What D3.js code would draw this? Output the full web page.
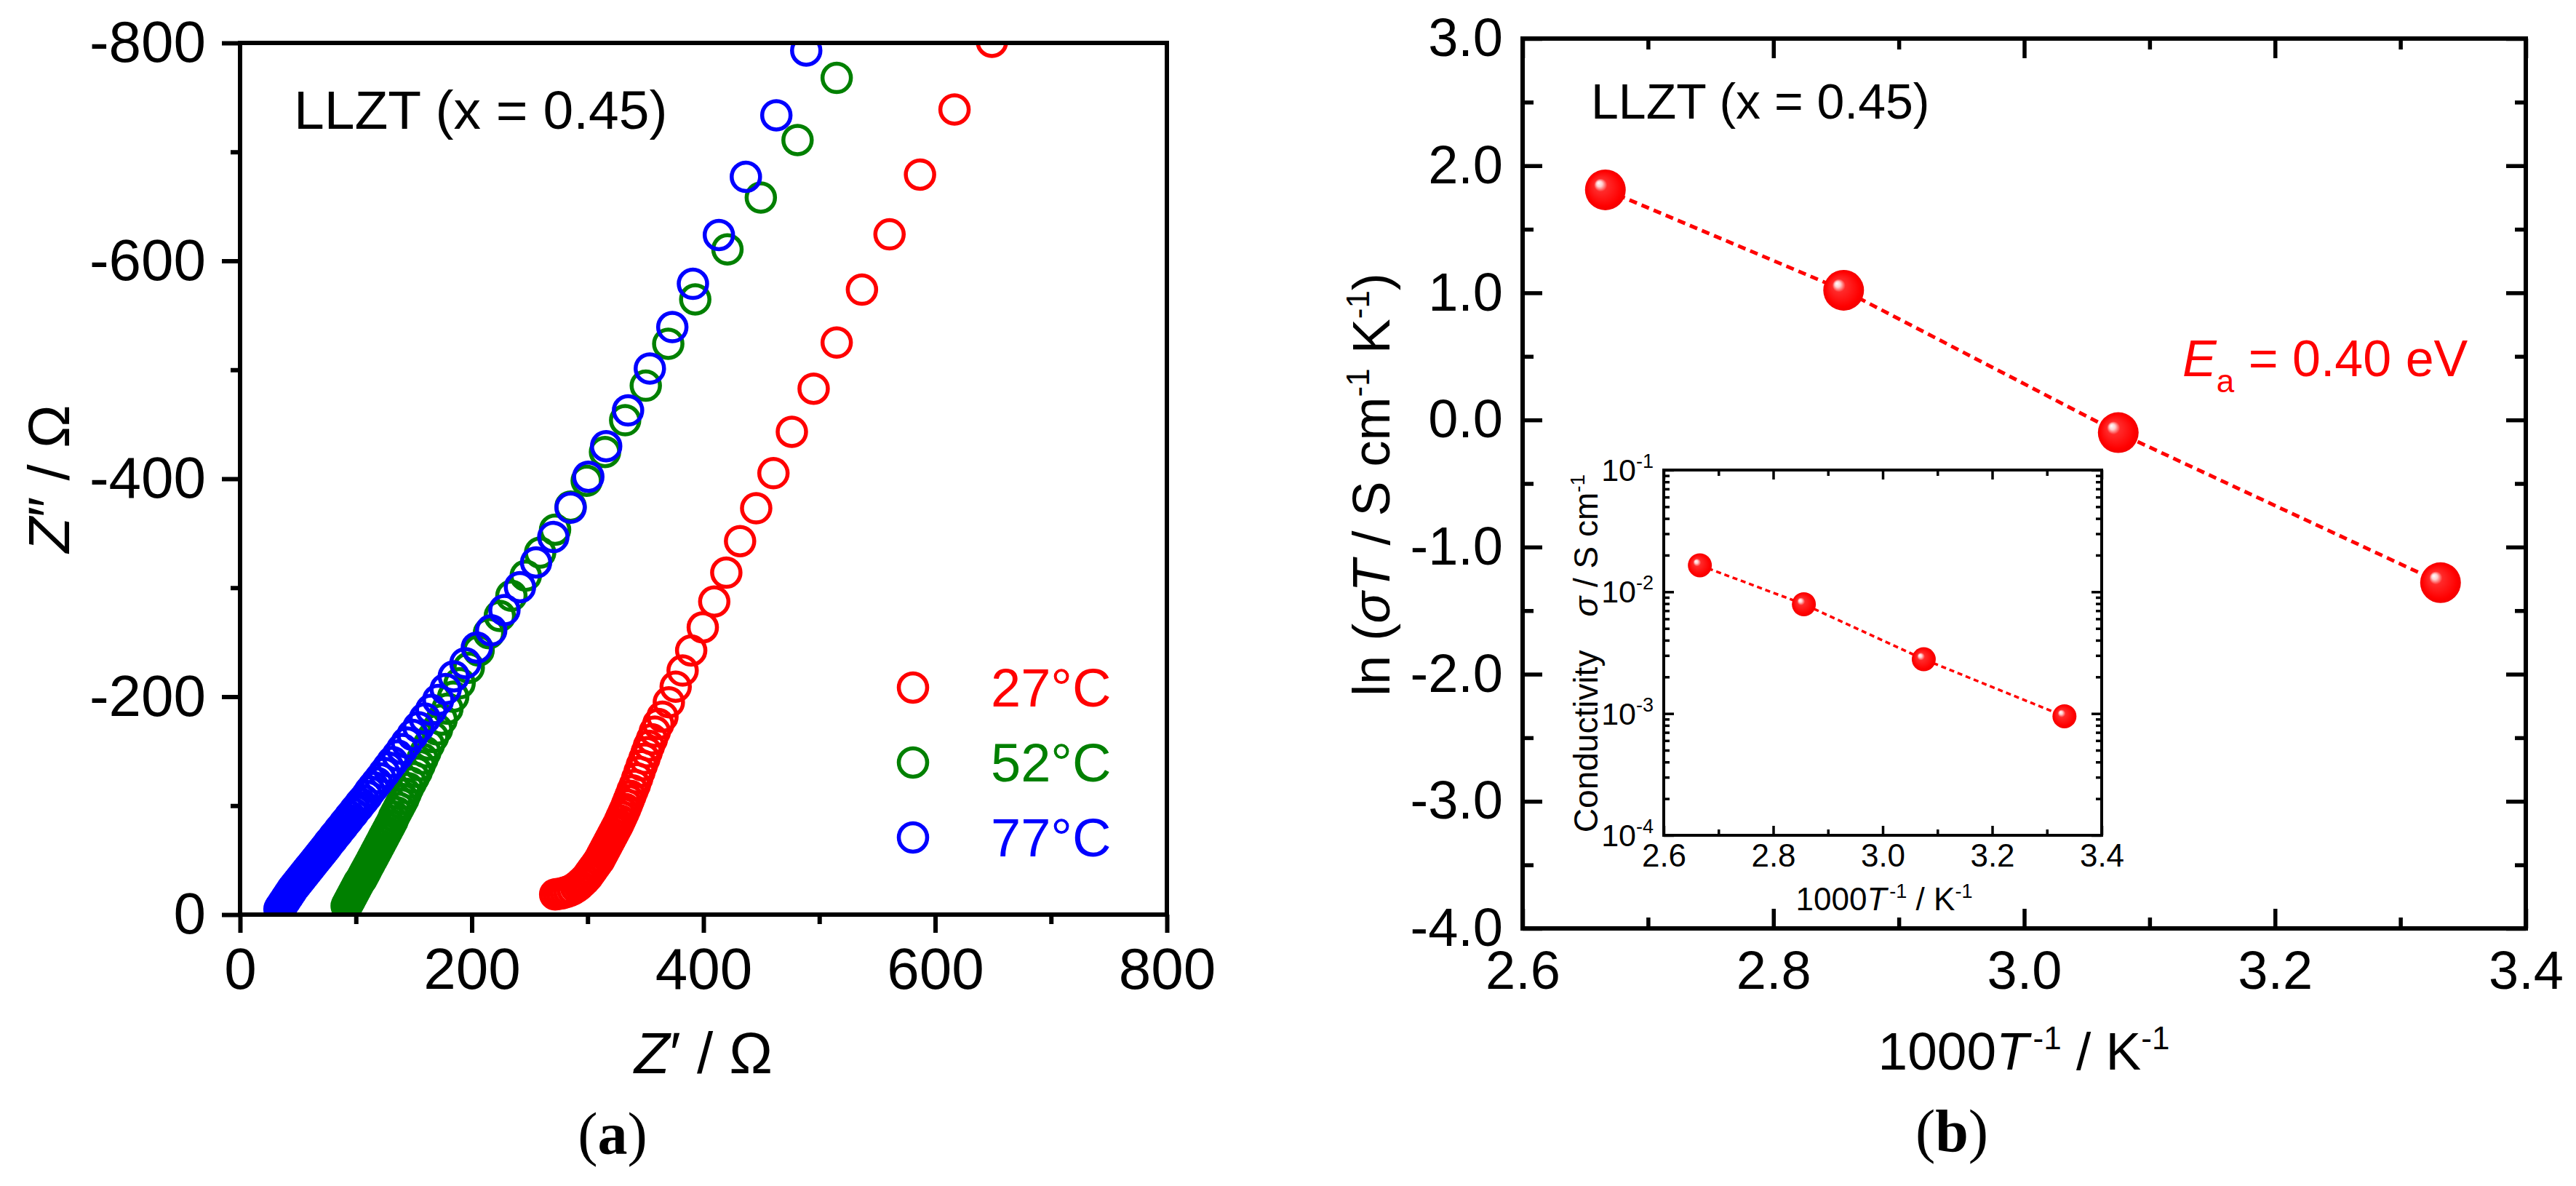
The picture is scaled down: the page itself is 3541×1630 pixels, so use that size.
<!DOCTYPE html>
<html>
<head>
<meta charset="utf-8">
<script src="https://cdn.jsdelivr.net/npm/d3@7"></script>
<style>
  html, body { margin: 0; padding: 0; background: #ffffff; }
  svg { display: block; }
</style>
</head>
<body>
<svg id="chart" width="3541" height="1630"></svg>
<script>
// ---------------- DATA ----------------
// Panel (a): Nyquist plots, [Z' (Ohm), Z'' (Ohm)]
const nyquist27C = [
  [649,-801],[616.7,-738.9],[586.9,-679.2],[560.6,-624.3],[536.8,-573.6],[515.0,-525.0],
  [495.1,-482.7],[476.3,-443.1],[460.4,-405.1],[445.5,-372.9],[431.6,-342.8],[419.7,-313.8],
  [409.3,-287.3],[399.4,-263.6],[389.4,-242.4],[382.0,-224.0],[376.0,-209.2],[370.1,-194.9],
  [364.6,-181.7],[361,-175],[358,-168],[355.5,-161],[353,-155],[351,-149],[349,-143],
  [346.8,-137],[344.8,-131],[342.8,-125],[340.8,-119],[338.8,-114],[337,-109],[335.5,-105],
  [334,-101],[332.5,-97],[331,-93.5],[329.5,-90],[328,-86.5],[326.5,-83],[325,-80],[323.5,-77],
  [322,-74],[320.5,-71],[319,-68],[317.5,-65],[316,-62],[314.5,-59],[313,-56],[311.5,-53],
  [310,-50],[308,-47],[306,-44],[304,-41],[302,-38],[300,-35],[297.5,-32],[295,-29.5],
  [292.5,-27],[290,-25],[287,-23],[284,-21.5],[281,-20.5],[278,-19.5],[275,-19],[272,-18.5]
];
const nyquist52C = [
  [515.0,-767.9],[481.2,-710.9],[449.5,-658.1],[420.7,-610.5],[392.9,-564.6],[369.6,-523.9],
  [350.2,-485.4],[332.4,-453.7],[315.0,-424.6],[299.2,-398.2],[285.3,-374.5],[271.9,-353.3],
  [259.0,-332.2],[246.6,-311.1],[234.2,-292.6],[224.2,-274.1],[214.8,-258.3],[205.9,-242.4],
  [197.4,-226.6],[189.5,-212.3],[184,-200],[179,-189],[174,-179],[170,-170],[166.5,-163],
  [163,-156],[160,-149],[157.5,-143],[155,-137],[152.5,-131],[150,-126],[147.5,-121],[145,-116],
  [143,-111],[141,-106],[139,-102],[137,-98],[135,-94],[133,-90],[131.5,-86],[129.5,-82],
  [128,-79],[126.5,-76],[125,-73],[123.5,-70],[122,-67],[120.5,-64],[119,-61],[117.5,-58],
  [116,-55],[114.5,-52],[113,-49],[111.5,-46],[110,-43],[108.5,-40],[107.5,-38],[106.5,-36],
  [105.5,-34],[104.5,-32],[103,-30],[102,-28],[101,-26],[100,-24],[99,-22],[98,-20],[97,-18],
  [96,-16],[95,-14],[94,-12],[93,-10],[92,-8]
];
const nyquist77C = [
  [488.7,-793],[462.9,-733.6],[436.6,-677.1],[413.3,-623.7],[390.9,-578.9],[373.1,-539.2],
  [353.7,-501.2],[334.9,-462.7],[316.0,-429.9],[300.6,-401.9],[285.3,-373.4],[270.4,-346.5],
  [255.5,-323.2],[241.6,-300.5],[228.2,-279.4],[216.8,-260.9],[204.4,-245.1],[194.5,-230.8],
  [184.5,-218.7],[177.5,-207],[171,-197],[165,-188],[159.5,-180],[154,-172],[149,-165],
  [144,-158],[140,-152],[136,-146],[131.5,-140],[128,-135],[124.5,-130],[121,-125],[118,-121],
  [115,-117],[112,-113],[109.5,-109],[106.5,-105],[104,-102],[102,-99],[99.5,-96],[97.5,-93],
  [95,-90],[93,-87],[90.5,-84],[88.5,-81],[86,-78],[84,-75],[81.5,-72],[79.5,-69],[77,-66],
  [75,-63],[73.5,-61],[72,-59],[70.5,-57],[69,-55],[67.5,-53],[66,-51],[64.5,-49],[63,-47],
  [61.5,-45],[60,-43],[58.5,-41],[57,-39],[55.5,-37],[54,-35],[52.5,-33],[51,-31],[49.5,-29],
  [48,-27],[46.5,-25],[45,-23],[44,-21],[42.5,-19],[41.5,-17],[40,-15],[39,-13],[37.5,-11],
  [36.5,-9],[35,-7],[34,-5]
];
const seriesNames = ["27\u00B0C", "52\u00B0C", "77\u00B0C"];
const seriesColors = ["#ff0000", "#008000", "#0000ff"];

// Panel (b): Arrhenius plot
const invT = [2.666, 2.856, 3.075, 3.332];          // 1000/T (K^-1)
const lnSigmaT = [1.81, 1.02, -0.10, -1.28];         // ln(sigma T)
const sigma = [1.65e-2, 7.9e-3, 2.79e-3, 9.5e-4];    // S cm^-1 (inset)

// Tick values
const aXTicks = [0, 200, 400, 600, 800];
const aXMinor = [100, 300, 500, 700];
const aYTicks = [0, -200, -400, -600, -800];
const aYMinor = [-100, -300, -500, -700];
const bXTicks = [2.6, 2.8, 3.0, 3.2, 3.4];
const bXMinor = [2.7, 2.9, 3.1, 3.3];
const bYTicks = [-4, -3, -2, -1, 0, 1, 2, 3];
const bYMinor = [-3.5, -2.5, -1.5, -0.5, 0.5, 1.5, 2.5];
const inYTicks = [1e-4, 1e-3, 1e-2, 1e-1];
const inYLabels = ["-4", "-3", "-2", "-1"];

// ---------------- DRAW ----------------
const FONT = "'Liberation Sans', Arial, Helvetica, sans-serif";
const SERIF = "'Liberation Serif', 'Times New Roman', serif";
const svg = d3.select("#chart");
svg.append("rect").attr("width", 3541).attr("height", 1630).attr("fill", "#fff");
const defs = svg.append("defs");

function styleAxis(g, sw, fs) {
  g.attr("font-family", FONT).attr("font-size", fs);
  g.select(".domain").remove();
  g.selectAll(".tick line").attr("stroke", "#000").attr("stroke-width", sw);
  g.selectAll(".tick text").attr("fill", "#000");
}
const fmt1 = v => d3.format(".1f")(v).replace("\u2212", "-");

// ===== Panel (a) =====
const A = { l: 330, r: 1604, t: 59, b: 1257 };
const xA = d3.scaleLinear().domain([0, 800]).range([A.l, A.r]);
const yA = d3.scaleLinear().domain([0, -800]).range([A.b, A.t]);

defs.append("clipPath").attr("id", "clipA").append("rect")
  .attr("x", A.l).attr("y", A.t).attr("width", A.r - A.l).attr("height", A.b - A.t);

const gA = svg.append("g");
const dataA = [nyquist27C, nyquist52C, nyquist77C];
const plotA = gA.append("g").attr("clip-path", "url(#clipA)");
dataA.forEach((arr, i) => {
  plotA.append("g").selectAll("circle").data(arr).join("circle")
    .attr("cx", d => xA(d[0])).attr("cy", d => yA(d[1])).attr("r", 19.5)
    .attr("fill", "none").attr("stroke", seriesColors[i]).attr("stroke-width", 5.5);
});

// axes (outward ticks left & bottom)
gA.append("g").attr("transform", `translate(0,${A.b})`)
  .call(d3.axisBottom(xA).tickValues(aXTicks).tickSize(25).tickPadding(20).tickFormat(d => String(d)))
  .call(g => styleAxis(g, 6, 80));
gA.append("g").attr("transform", `translate(0,${A.b})`)
  .call(d3.axisBottom(xA).tickValues(aXMinor).tickSize(13).tickFormat(""))
  .call(g => styleAxis(g, 6, 80));
gA.append("g").attr("transform", `translate(${A.l},0)`)
  .call(d3.axisLeft(yA).tickValues(aYTicks).tickSize(25).tickPadding(22).tickFormat(d => String(d)))
  .call(g => styleAxis(g, 6, 80));
gA.append("g").attr("transform", `translate(${A.l},0)`)
  .call(d3.axisLeft(yA).tickValues(aYMinor).tickSize(13).tickFormat(""))
  .call(g => styleAxis(g, 6, 80));
gA.append("rect").attr("x", A.l).attr("y", A.t).attr("width", A.r - A.l).attr("height", A.b - A.t)
  .attr("fill", "none").attr("stroke", "#000").attr("stroke-width", 6);

// labels
gA.append("text").attr("x", 404).attr("y", 177).attr("font-family", FONT).attr("font-size", 75)
  .text("LLZT (x = 0.45)");
const yLabA = gA.append("text").attr("transform", "translate(95,658) rotate(-90)")
  .attr("text-anchor", "middle").attr("font-family", FONT).attr("font-size", 80);
yLabA.append("tspan").attr("font-style", "italic").text("Z");
yLabA.append("tspan").text("\u2033 / \u03A9");
const xLabA = gA.append("text").attr("x", 967).attr("y", 1475)
  .attr("text-anchor", "middle").attr("font-family", FONT).attr("font-size", 80);
xLabA.append("tspan").attr("font-style", "italic").text("Z");
xLabA.append("tspan").text("\u2032 / \u03A9");

// legend
const legY = [945, 1048, 1151];
seriesNames.forEach((name, i) => {
  gA.append("circle").attr("cx", 1255).attr("cy", legY[i]).attr("r", 19.5)
    .attr("fill", "none").attr("stroke", seriesColors[i]).attr("stroke-width", 5.5);
  gA.append("text").attr("x", 1362).attr("y", legY[i] + 26).attr("font-family", FONT)
    .attr("font-size", 74).attr("fill", seriesColors[i]).text(name);
});

// caption (a)
const capA = svg.append("text").attr("x", 842).attr("y", 1586).attr("text-anchor", "middle")
  .attr("font-family", SERIF).attr("font-size", 82);
capA.append("tspan").text("(");
capA.append("tspan").attr("font-weight", "bold").text("a");
capA.append("tspan").text(")");

// ===== Panel (b) =====
const B = { l: 2093, r: 3472, t: 53, b: 1276 };
const xB = d3.scaleLinear().domain([2.6, 3.4]).range([B.l, B.r]);
const yB = d3.scaleLinear().domain([-4, 3]).range([B.b, B.t]);

const grad = defs.append("radialGradient").attr("id", "ball")
  .attr("cx", "50%").attr("cy", "50%").attr("r", "50%").attr("fx", "33%").attr("fy", "33%");
[[0, "#ffffff"], [0.14, "#ffd0d0"], [0.32, "#ff2a2a"], [0.85, "#ff0000"], [1, "#f20000"]]
  .forEach(s => grad.append("stop").attr("offset", s[0]).attr("stop-color", s[1]));

const gB = svg.append("g");
// axes (inward ticks on all four sides)
function bAxes(sizeMaj, sizeMin) {
  gB.append("g").attr("transform", `translate(0,${B.b})`)
    .call(d3.axisBottom(xB).tickValues(bXTicks).tickSize(-sizeMaj).tickPadding(30).tickFormat(fmt1))
    .call(g => styleAxis(g, 5.5, 74));
  gB.append("g").attr("transform", `translate(0,${B.b})`)
    .call(d3.axisBottom(xB).tickValues(bXMinor).tickSize(-sizeMin).tickFormat(""))
    .call(g => styleAxis(g, 5.5, 74));
  gB.append("g").attr("transform", `translate(0,${B.t})`)
    .call(d3.axisTop(xB).tickValues(bXTicks).tickSize(-sizeMaj).tickFormat(""))
    .call(g => styleAxis(g, 5.5, 74));
  gB.append("g").attr("transform", `translate(0,${B.t})`)
    .call(d3.axisTop(xB).tickValues(bXMinor).tickSize(-sizeMin).tickFormat(""))
    .call(g => styleAxis(g, 5.5, 74));
  gB.append("g").attr("transform", `translate(${B.l},0)`)
    .call(d3.axisLeft(yB).tickValues(bYTicks).tickSize(-sizeMaj).tickPadding(27).tickFormat(fmt1))
    .call(g => styleAxis(g, 5.5, 74));
  gB.append("g").attr("transform", `translate(${B.l},0)`)
    .call(d3.axisLeft(yB).tickValues(bYMinor).tickSize(-sizeMin).tickFormat(""))
    .call(g => styleAxis(g, 5.5, 74));
  gB.append("g").attr("transform", `translate(${B.r},0)`)
    .call(d3.axisRight(yB).tickValues(bYTicks).tickSize(-sizeMaj).tickFormat(""))
    .call(g => styleAxis(g, 5.5, 74));
  gB.append("g").attr("transform", `translate(${B.r},0)`)
    .call(d3.axisRight(yB).tickValues(bYMinor).tickSize(-sizeMin).tickFormat(""))
    .call(g => styleAxis(g, 5.5, 74));
}
bAxes(27, 15);

const ptsB = invT.map((x, i) => [x, lnSigmaT[i]]);
gB.append("path").datum(ptsB)
  .attr("d", d3.line().x(d => xB(d[0])).y(d => yB(d[1])))
  .attr("fill", "none").attr("stroke", "#ff0000").attr("stroke-width", 5)
  .attr("stroke-dasharray", "11,7");
gB.append("g").selectAll("circle").data(ptsB).join("circle")
  .attr("cx", d => xB(d[0])).attr("cy", d => yB(d[1])).attr("r", 28)
  .attr("fill", "url(#ball)");

gB.append("rect").attr("x", B.l).attr("y", B.t).attr("width", B.r - B.l).attr("height", B.b - B.t)
  .attr("fill", "none").attr("stroke", "#000").attr("stroke-width", 6);

gB.append("text").attr("x", 2187).attr("y", 163).attr("font-family", FONT).attr("font-size", 68)
  .text("LLZT (x = 0.45)");

// Ea label
const ea = gB.append("text").attr("x", 3000).attr("y", 517).attr("font-family", FONT)
  .attr("font-size", 70).attr("fill", "#ff0000");
ea.append("tspan").attr("font-style", "italic").text("E");
ea.append("tspan").attr("font-size", 44).attr("dy", 22).text("a");
ea.append("tspan").attr("dy", -22).text(" = 0.40 eV");

// y label
const yLabB = gB.append("text").attr("transform", "translate(1910,666) rotate(-90)")
  .attr("text-anchor", "middle").attr("font-family", FONT).attr("font-size", 72);
yLabB.append("tspan").text("ln (");
yLabB.append("tspan").attr("font-style", "italic").text("\u03C3T");
yLabB.append("tspan").text(" / S cm");
yLabB.append("tspan").attr("font-size", 44).attr("dy", -28).text("-1");
yLabB.append("tspan").attr("dy", 28).text(" K");
yLabB.append("tspan").attr("font-size", 44).attr("dy", -28).text("-1");
yLabB.append("tspan").attr("dy", 28).text(")");

// x label
const xLabB = gB.append("text").attr("x", 2782).attr("y", 1470)
  .attr("text-anchor", "middle").attr("font-family", FONT).attr("font-size", 73);
xLabB.append("tspan").text("1000");
xLabB.append("tspan").attr("font-style", "italic").text("T");
xLabB.append("tspan").attr("font-size", 44).attr("dy", -28).attr("dx", 6).text("-1");
xLabB.append("tspan").attr("dy", 28).text(" / K");
xLabB.append("tspan").attr("font-size", 44).attr("dy", -28).text("-1");

// caption (b)
const capB = svg.append("text").attr("x", 2683).attr("y", 1582).attr("text-anchor", "middle")
  .attr("font-family", SERIF).attr("font-size", 82);
capB.append("tspan").text("(");
capB.append("tspan").attr("font-weight", "bold").text("b");
capB.append("tspan").text(")");

// ===== Inset =====
const I = { l: 2287, r: 2889, t: 646, b: 1148 };
const xI = d3.scaleLinear().domain([2.6, 3.4]).range([I.l, I.r]);
const yI = d3.scaleLog().domain([1e-4, 1e-1]).range([I.b, I.t]);
const gI = svg.append("g");
gI.append("rect").attr("x", I.l).attr("y", I.t).attr("width", I.r - I.l).attr("height", I.b - I.t)
  .attr("fill", "#fff");

const inMinorY = yI.ticks().filter(v => !inYTicks.some(t => Math.abs(Math.log10(v) - Math.log10(t)) < 1e-6));
function inAxis(axisFn, pos, vals, size) {
  gI.append("g").attr("transform", pos)
    .call(axisFn.tickValues(vals).tickSize(-size).tickFormat(""))
    .call(g => styleAxis(g, 3.5, 44));
}
gI.append("g").attr("transform", `translate(0,${I.b})`)
  .call(d3.axisBottom(xI).tickValues(bXTicks).tickSize(-13).tickPadding(12).tickFormat(fmt1))
  .call(g => styleAxis(g, 3.5, 44));
inAxis(d3.axisBottom(xI), `translate(0,${I.b})`, bXMinor, 8);
inAxis(d3.axisTop(xI), `translate(0,${I.t})`, bXTicks, 13);
inAxis(d3.axisTop(xI), `translate(0,${I.t})`, bXMinor, 8);
inAxis(d3.axisLeft(yI), `translate(${I.l},0)`, inYTicks, 14);
inAxis(d3.axisLeft(yI), `translate(${I.l},0)`, inMinorY, 8);
inAxis(d3.axisRight(yI), `translate(${I.r},0)`, inYTicks, 14);
inAxis(d3.axisRight(yI), `translate(${I.r},0)`, inMinorY, 8);

// inset y tick labels 10^n
inYTicks.forEach((v, i) => {
  const t = gI.append("text").attr("x", I.l - 14).attr("y", yI(v) + 15)
    .attr("text-anchor", "end").attr("font-family", FONT).attr("font-size", 43);
  t.append("tspan").text("10");
  t.append("tspan").attr("font-size", 27).attr("dy", -18).text(inYLabels[i]);
});

const ptsI = invT.map((x, i) => [x, sigma[i]]);
gI.append("path").datum(ptsI)
  .attr("d", d3.line().x(d => xI(d[0])).y(d => yI(d[1])))
  .attr("fill", "none").attr("stroke", "#ff0000").attr("stroke-width", 3.5)
  .attr("stroke-dasharray", "7,5");
gI.append("g").selectAll("circle").data(ptsI).join("circle")
  .attr("cx", d => xI(d[0])).attr("cy", d => yI(d[1])).attr("r", 16.5)
  .attr("fill", "url(#ball)");

gI.append("rect").attr("x", I.l).attr("y", I.t).attr("width", I.r - I.l).attr("height", I.b - I.t)
  .attr("fill", "none").attr("stroke", "#000").attr("stroke-width", 4);

const xLabI = gI.append("text").attr("x", 2590).attr("y", 1251)
  .attr("text-anchor", "middle").attr("font-family", FONT).attr("font-size", 44);
xLabI.append("tspan").text("1000");
xLabI.append("tspan").attr("font-style", "italic").text("T");
xLabI.append("tspan").attr("font-size", 27).attr("dy", -17).attr("dx", 4).text("-1");
xLabI.append("tspan").attr("dy", 17).text(" / K");
xLabI.append("tspan").attr("font-size", 27).attr("dy", -17).text("-1");

const yLabI = gI.append("text").attr("transform", "translate(2196,898) rotate(-90)")
  .attr("text-anchor", "middle").attr("font-family", FONT).attr("font-size", 46);
yLabI.append("tspan").text("Conductivity\u2003");
yLabI.append("tspan").attr("font-style", "italic").text("\u03C3");
yLabI.append("tspan").text(" / S cm");
yLabI.append("tspan").attr("font-size", 28).attr("dy", -18).text("-1");
</script>
</body>
</html>
